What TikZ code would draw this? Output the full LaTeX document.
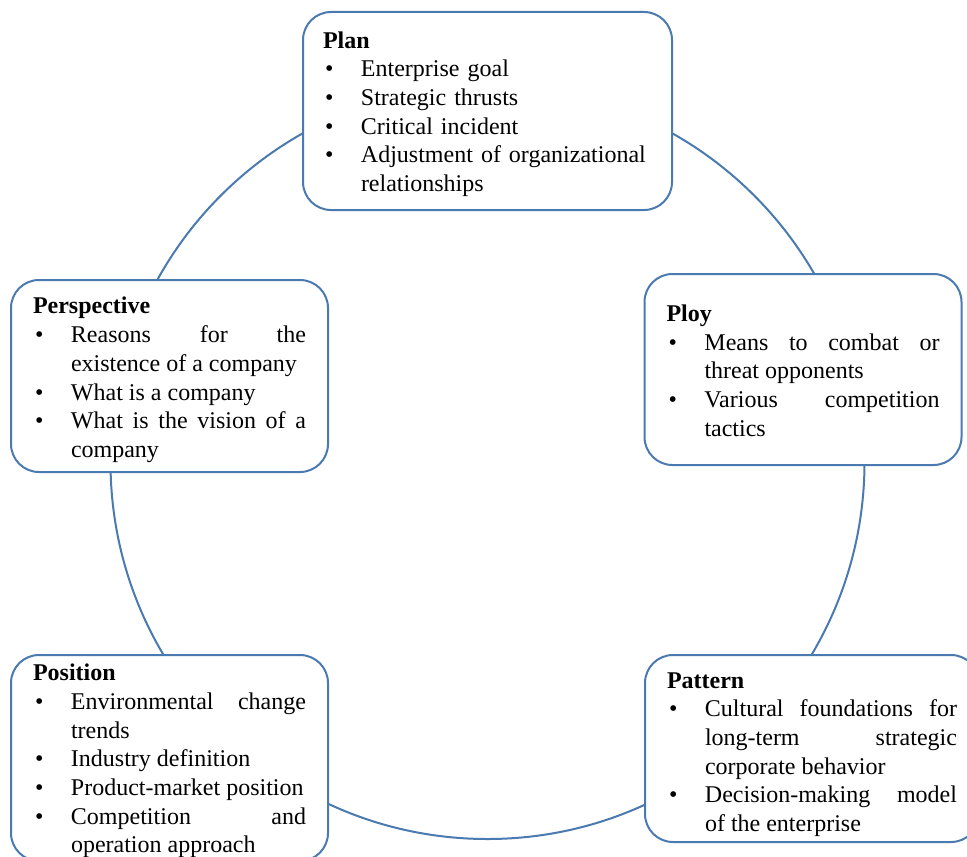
\documentclass[tikz,border=0pt]{standalone}
\usepackage{fontspec}
\setmainfont{Liberation Serif}
\usepackage{tikz}
\usetikzlibrary{positioning}
\definecolor{ringblue}{RGB}{74,122,176}
\newcommand{\cardfont}{\fontsize{12pt}{14.35pt}\selectfont
  \tolerance=10000 \hbadness=10000 \hyphenpenalty=10000 \exhyphenpenalty=10000 }
\newcommand{\bul}[1]{\par\noindent\hangindent=19pt\hangafter=1\makebox[19pt][l]{\hspace{1pt}\textbullet}#1\par}
\tikzset{
  ring/.style={line width=1pt,ringblue},
  card/.style={rectangle,draw=ringblue,line width=1pt,fill=white,rounded corners=14pt,
    inner xsep=11pt,inner ysep=2pt,align=justify,font=\cardfont},
  dropby/.style={execute at end node={\par\vspace*{-#1}}},
}
\begin{document}
\begin{tikzpicture}[x=0.5pt,y=-0.5pt]
  \clip (0,0) rectangle (967,856);
  \draw[ring] (487.5,462) circle[radius=188.5pt];
  \node[card,text width=164.5pt,inner xsep=10pt,minimum height=99pt,align=left,dropby=3pt] (plan) at (487.5,111)
    {\textbf{Plan}\bul{Enterprise goal}\bul{Strategic thrusts}\bul{Critical incident}\bul{Adjustment of organizational relationships}};
  \node[card,text width=136.5pt,minimum height=95.5pt,dropby=1pt] (ploy) at (803,369.5)
    {\textbf{Ploy}\bul{Means to combat or\linebreak threat opponents}\bul{Various competition\linebreak tactics}};
  \node[card,text width=145pt,minimum height=93.5pt,dropby=6pt] (pattern) at (812,748.5)
    {\textbf{Pattern}\bul{Cultural foundations for\linebreak long-term strategic\linebreak corporate behavior}\bul{Decision-making model\linebreak of the enterprise}};
  \node[card,text width=136.5pt,minimum height=103pt,dropby=3pt] (position) at (169.5,758)
    {\textbf{Position}\bul{Environmental change\linebreak trends}\bul{Industry definition}\bul{Product-market position}\bul{Competition and\linebreak operation approach}};
  \node[card,text width=136.5pt,minimum height=96pt,dropby=4pt] (persp) at (169.5,376)
    {\textbf{Perspective}\bul{Reasons for the\linebreak existence of a company}\bul{What is a company}\bul{What is the vision of a\linebreak company}};
\end{tikzpicture}
\end{document}
